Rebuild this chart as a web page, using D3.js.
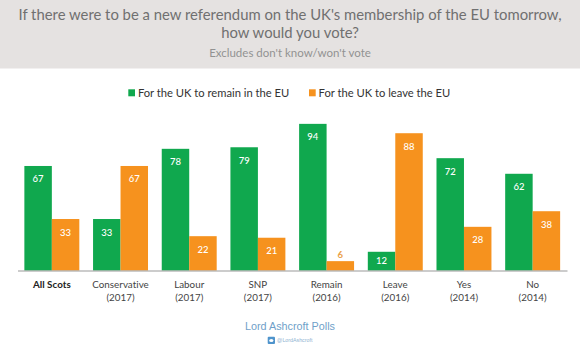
<!DOCTYPE html>
<html>
<head>
<meta charset="utf-8">
<script src="https://cdn.jsdelivr.net/npm/d3@7"></script>
<style>
html, body { margin: 0; padding: 0; background: #fff; }
svg { display: block; }
text { font-family: Lato, "Open Sans", sans-serif; }
</style>
</head>
<body>
<svg id="chart" width="580" height="351"></svg>
<script>
var categories = ["All Scots", "Conservative|(2017)", "Labour|(2017)", "SNP|(2017)", "Remain|(2016)", "Leave|(2016)", "Yes|(2014)", "No|(2014)"];
var remain = [67, 33, 78, 79, 94, 12, 72, 62];
var leave = [33, 67, 22, 21, 6, 88, 28, 38];
var series_names = ["For the UK to remain in the EU", "For the UK to leave the EU"];
var title_lines = ["If there were to be a new referendum on the UK's membership of the EU tomorrow,", "how would you vote?"];
var subtitle = "Excludes don't know/won't vote";

const GREEN = "#10a84e";
const ORANGE = "#f6921e";
const AXIS_Y = 270.5;

var svg = d3.select("svg#chart");

// header band
svg.append("rect").attr("width", 580).attr("height", 68.5).attr("fill", "#e5e2e1");
svg.selectAll("text.title")
    .data(title_lines)
    .join("text")
    .attr("class", "title")
    .attr("x", 290)
    .attr("y", (d, i) => 20 + i * 18)
    .attr("text-anchor", "middle")
    .attr("font-size", 14.85)
    .attr("fill", "#707070")
    .text(d => d);
svg.append("text")
    .attr("x", 290)
    .attr("y", 57)
    .attr("text-anchor", "middle")
    .attr("font-size", 11.5)
    .attr("fill", "#929292")
    .text(subtitle);

// legend
var legend_x = [128.3, 309];
series_names.forEach(function(name, i) {
    svg.append("rect")
        .attr("x", legend_x[i])
        .attr("y", 89.3)
        .attr("width", 6.7)
        .attr("height", 7)
        .attr("fill", i == 0 ? GREEN : ORANGE);
    svg.append("text")
        .attr("x", legend_x[i] + 9.6)
        .attr("y", 96.7)
        .attr("font-size", 11.2)
        .attr("fill", "#333")
        .text(name);
});

var xscale = d3.scaleBand()
    .domain(categories)
    .range([17.5, 567])
    .paddingInner(0.2)
    .paddingOuter(0.1);
var hscale = d3.scaleLinear()
    .domain([0, 100])
    .range([AXIS_Y, AXIS_Y - 156]);

var bar_w = xscale.bandwidth() / 2;

function draw_series(values, offset, color, cls) {
    svg.selectAll("rect." + cls)
        .data(values)
        .join("rect")
        .attr("class", cls)
        .attr("x", (d, i) => xscale(categories[i]) + offset)
        .attr("y", d => hscale(d))
        .attr("width", bar_w)
        .attr("height", d => AXIS_Y - hscale(d))
        .attr("fill", color);

    svg.selectAll("text." + cls)
        .data(values)
        .join("text")
        .attr("class", cls)
        .attr("x", (d, i) => xscale(categories[i]) + offset + bar_w / 2)
        .attr("y", d => d < 10 ? hscale(d) - 3.5 : (d < 20 ? hscale(d) + 12 : hscale(d) + 16.5))
        .attr("text-anchor", "middle")
        .attr("font-size", 9.5)
        .attr("font-weight", d => d < 10 ? 700 : 500)
        .attr("fill", d => d < 10 ? "#eba24a" : "#fff")
        .text(d => d);
}
draw_series(remain, 0, GREEN, "remain");
draw_series(leave, bar_w, ORANGE, "leave");

// x axis
var xaxis = d3.axisBottom(xscale).tickSize(0).tickFormat("");
var xaxis_g = svg.append("g")
    .attr("transform", "translate(0," + AXIS_Y + ")")
    .call(xaxis);
xaxis_g.select(".domain").attr("stroke", "#999").attr("stroke-width", 1);

categories.forEach(function(cat, i) {
    var label = svg.append("text")
        .attr("x", xscale(cat) + xscale.bandwidth() / 2)
        .attr("y", 288)
        .attr("text-anchor", "middle")
        .attr("font-size", 9.8)
        .attr("letter-spacing", 0.03)
        .attr("font-weight", i == 0 ? 700 : 400)
        .attr("fill", i == 0 ? "#222" : "#444");
    cat.split("|").forEach(function(part, j) {
        label.append("tspan")
            .attr("x", xscale(cat) + xscale.bandwidth() / 2)
            .attr("dy", j == 0 ? 0 : 13)
            .text(part);
    });
});

// footer
svg.append("text")
    .attr("x", 290)
    .attr("y", 330)
    .attr("text-anchor", "middle")
    .attr("font-size", 10.8)
    .attr("fill", "#6f9fc9")
    .style("font-family", "'Liberation Sans', Arial, sans-serif")
    .text("Lord Ashcroft Polls");
svg.append("rect")
    .attr("x", 267.7)
    .attr("y", 336.7)
    .attr("width", 7.3)
    .attr("height", 7.3)
    .attr("rx", 1)
    .attr("fill", "#4f94cc");
svg.append("ellipse")
    .attr("cx", 271.3)
    .attr("cy", 340.4)
    .attr("rx", 2.1)
    .attr("ry", 1.5)
    .attr("fill", "#fff");
svg.append("text")
    .attr("x", 277)
    .attr("y", 342.3)
    .attr("font-size", 5.3)
    .attr("fill", "#8fb4d2")
    .style("font-family", "'Liberation Sans', Arial, sans-serif")
    .text("@LordAshcroft");
</script>
</body>
</html>
